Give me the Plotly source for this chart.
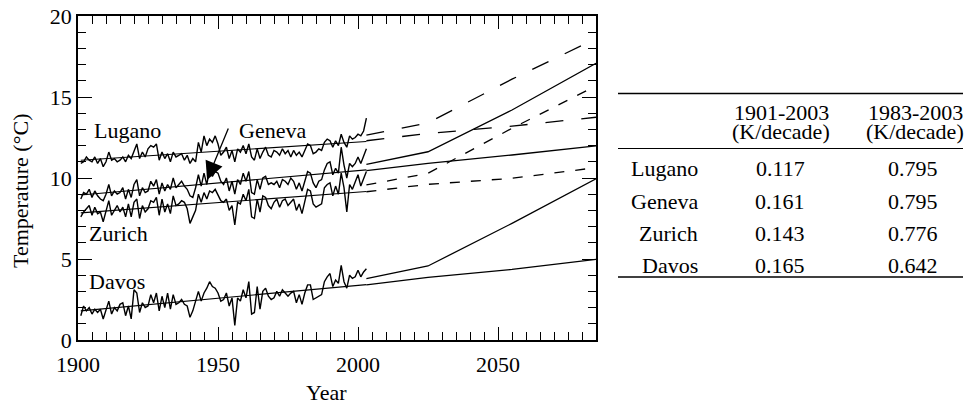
import plotly.graph_objects as go

years = list(range(1901, 2004))

lugano = [10.9, 11.0, 11.3, 11.1, 11.0, 11.3, 10.9, 11.2, 10.7, 11.0,
          11.6, 11.1, 11.2, 11.0, 11.1, 11.3, 11.0, 11.4, 11.2, 11.7,
          12.1, 11.2, 11.6, 11.3, 11.8, 12.0, 11.9, 12.1, 11.1, 11.6,
          11.2, 11.5, 11.0, 11.6, 11.3, 11.4, 11.5, 11.1, 11.4, 10.9,
          11.2, 11.0, 12.2, 11.6, 12.6, 12.0, 12.4, 12.2, 12.6, 12.1,
          11.4, 11.6, 11.9, 11.2, 11.7, 11.0, 11.8, 11.6, 12.0, 11.5,
          12.1, 11.3, 11.1, 11.8, 11.2, 11.6, 11.9, 11.4, 11.3, 11.7,
          11.6, 11.4, 11.8, 11.5, 11.7, 11.3, 11.7, 11.4, 11.6, 11.3,
          11.7, 12.1, 12.0, 11.5, 11.6, 11.8, 11.7, 12.2, 12.4, 12.3,
          11.9, 12.3, 12.0, 12.7, 12.2, 11.9, 12.6, 12.4, 12.5, 12.7,
          12.6, 12.9, 13.7]

geneva = [8.7, 9.1, 9.0, 9.3, 8.8, 9.2, 8.9, 8.7, 8.6, 9.0,
          9.6, 8.9, 9.2, 9.0, 9.1, 9.4, 8.7, 9.3, 8.8, 9.6,
          9.9, 8.9, 9.4, 9.1, 9.2, 9.8, 9.5, 9.9, 9.0, 9.7,
          9.2, 9.6, 9.3, 10.0, 9.4, 9.6, 9.8, 9.5, 9.3, 8.9,
          8.8, 9.4, 10.2, 9.5, 10.3, 9.6, 10.5, 10.1, 10.4, 10.3,
          9.8, 9.6, 10.0, 9.2, 9.8, 9.0, 9.9, 9.6, 10.3, 9.8,
          10.4, 9.1, 9.0, 9.9, 9.3, 10.0, 10.1, 9.6, 9.7, 9.6,
          9.8, 9.4, 9.9, 9.8, 9.6, 10.0, 9.8, 9.3, 9.7, 9.2,
          9.8, 10.4, 10.3, 9.7, 9.4, 9.8, 9.9, 10.5, 10.9, 11.0,
          10.2, 10.6, 10.3, 11.9, 10.8, 10.0, 10.9, 10.7, 10.9, 11.3,
          10.9, 11.4, 11.8]

zurich = [7.6, 7.9, 8.1, 8.3, 7.7, 8.2, 7.8, 7.9, 7.3, 7.9,
          8.6, 7.7, 8.0, 8.3, 7.9, 8.2, 7.6, 8.4, 7.6, 8.5,
          8.7, 7.5, 8.3, 7.9, 8.1, 8.6, 8.5, 8.8, 7.7, 8.7,
          7.9, 8.4, 7.8, 8.9, 8.3, 8.4, 8.6, 8.5, 8.1, 7.2,
          7.6, 8.0, 9.0, 8.5, 9.1, 8.7, 9.2, 9.1, 9.3, 8.9,
          8.6, 8.5, 8.7, 8.0, 8.3, 7.1, 8.5, 8.4, 9.0, 8.6,
          9.3, 7.6, 7.5, 8.7, 7.9, 8.9, 8.8, 8.3, 8.1, 8.5,
          8.7, 8.2, 8.6, 8.7, 8.3, 8.5, 8.7, 8.0, 8.4, 7.8,
          8.5, 9.3, 9.2, 8.4, 8.2, 8.3, 8.4, 9.4, 9.6, 9.7,
          8.9, 9.5, 9.0, 10.3, 9.4, 7.9, 9.6, 9.3, 9.7, 10.2,
          9.5, 10.0, 10.4]

davos = [1.5, 2.1, 1.8, 2.0, 1.6, 1.9, 1.7, 1.9, 1.3, 1.8,
         2.4, 1.6, 2.0, 1.8, 2.2, 2.3, 1.5, 2.1, 1.3, 3.1,
         2.9, 1.7, 2.3, 2.0, 2.1, 2.8, 2.3, 2.9, 1.8, 2.7,
         2.0, 2.9, 1.9, 2.8, 2.2, 2.3, 2.5, 2.2, 2.1, 1.4,
         1.8, 2.4, 3.0, 2.4, 2.9, 3.2, 3.6, 3.3, 3.2, 2.9,
         2.4, 2.5, 2.9, 2.1, 2.6, 0.9, 2.6, 2.4, 3.1, 2.6,
         3.6, 1.6, 1.7, 3.3, 1.9, 3.0, 3.2, 2.7, 2.5, 2.6,
         3.0, 2.7, 3.1, 2.9, 2.7, 2.9, 3.0, 2.3, 2.8, 2.2,
         2.9, 3.4, 3.4, 2.5, 2.6, 2.7, 2.8, 3.6, 3.9, 4.1,
         3.3, 3.7, 3.5, 4.6, 3.6, 3.2, 4.0, 3.8, 3.9, 4.3,
         3.9, 4.2, 4.4]

# linear trends 1901-2003 (end points)
trend_years = [1901, 2003]
trend_lugano = [11.1, 12.25]
trend_geneva = [8.95, 10.5]
trend_zurich = [7.85, 9.17]
trend_davos = [1.8, 3.42]

# scenario projections
proj_years = [2003, 2025, 2055, 2085]
lugano_hi = [12.65, 13.4, 16.1, 18.6]
lugano_lo = [12.3, 12.75, 13.2, 13.75]
geneva_hi = [10.84, 11.62, 14.2, 17.08]
geneva_lo = [10.45, 10.9, 11.42, 11.98]
zurich_hi = [9.57, 10.29, 13.07, 15.68]
zurich_lo = [9.15, 9.61, 9.98, 10.64]
davos_hi = [3.79, 4.57, 7.2, 9.95]
davos_lo = [3.4, 3.87, 4.36, 4.98]

# table
table_stations = ["Lugano", "Geneva", "Zurich", "Davos"]
table_head1 = ["1901-2003", "1983-2003"]
table_head2 = ["(K/decade)", "(K/decade)"]
trend_1901_2003 = ["0.117", "0.161", "0.143", "0.165"]
trend_1983_2003 = ["0.795", "0.795", "0.776", "0.642"]

FONT = "Liberation Serif"
FS = 22

fig = go.Figure()

for s in [lugano, geneva, zurich, davos]:
    fig.add_trace(go.Scatter(x=years, y=s, mode="lines",
                             line=dict(color="black", width=1.4), showlegend=False))
for t in [trend_lugano, trend_geneva, trend_zurich, trend_davos]:
    fig.add_trace(go.Scatter(x=trend_years, y=t, mode="lines",
                             line=dict(color="black", width=1.1), showlegend=False))

proj = [(lugano_hi, "18px,18px"), (lugano_lo, "18px,18px"),
        (geneva_hi, "solid"), (geneva_lo, "solid"),
        (zurich_hi, "10px,11px"), (zurich_lo, "10px,11px"),
        (davos_hi, "solid"), (davos_lo, "solid")]
for vals, dash in proj:
    fig.add_trace(go.Scatter(x=proj_years, y=vals, mode="lines",
                             line=dict(color="black", width=1.3, dash=dash),
                             showlegend=False))

# page offset of the plotly div (default body margin)
OFF = 8
# geometry of plot area in page pixels
L, R, T, B = 78, 596, 16, 340
W, H = R - L, B - T
FIG_W, FIG_H = 973, 404

def px(xp):
    return (xp - L) / W

def py(yp):
    return (B - yp) / H

def txt(x, y, text, xref="paper", yref="paper", xanchor="center", **kw):
    d = dict(x=x, y=y, xref=xref, yref=yref, text=text, showarrow=False,
             xanchor=xanchor, yanchor="middle",
             font=dict(family=FONT, size=FS, color="black"))
    d.update(kw)
    return d

ann = []
# station labels
for name, xx, yy in [("Lugano", 1917.5, 12.95), ("Geneva", 1969.3, 12.95),
                     ("Zurich", 1914.6, 6.55), ("Davos", 1913.9, 3.6)]:
    ann.append(txt(xx, yy, name, xref="x", yref="y"))
# arrow
ann.append(dict(x=1946.1, y=9.88, ax=1953.9, ay=13.15, xref="x", yref="y",
                axref="x", ayref="y", text="", showarrow=True,
                arrowhead=2, arrowsize=2.8, arrowwidth=1.3, arrowcolor="black"))
# axis titles
ann.append(txt(px(326), py(392), "Year"))
ann.append(txt(px(20), py(191), "Temperature (\u00b0C)", textangle=-90))

# table text
col_x = [781, 915]
for i in range(2):
    ann.append(txt(px(col_x[i]), py(112), table_head1[i]))
    ann.append(txt(px(col_x[i]), py(131), table_head2[i]))
row_y = [168, 201, 233, 265]
for j in range(4):
    ann.append(txt(px(700), py(row_y[j]), table_stations[j], xanchor="right"))
    ann.append(txt(px(780), py(row_y[j]), trend_1901_2003[j]))
    ann.append(txt(px(913), py(row_y[j]), trend_1983_2003[j]))

shapes = []
for yy, w in [(93.5, 1.3), (148.5, 1.1), (277, 1.3)]:
    shapes.append(dict(type="line", xref="paper", yref="paper",
                       x0=px(618), x1=px(963), y0=py(yy), y1=py(yy),
                       line=dict(color="black", width=w)))

ml = L - OFF
mt = T - OFF
mr = FIG_W - ml - W
mb = FIG_H - mt - H

fig.update_layout(
    width=FIG_W, height=FIG_H,
    margin=dict(l=ml, r=mr, t=mt, b=mb, pad=0),
    paper_bgcolor="white", plot_bgcolor="white",
    font=dict(family=FONT, size=FS, color="black"),
    annotations=ann, shapes=shapes,
    xaxis=dict(range=[1900, 2085], tickvals=[1900, 1950, 2000, 2050],
               automargin=False, ticklabeloverflow="allow",
               ticks="inside", ticklen=13, tickwidth=1.3, tickcolor="black",
               ticklabelstandoff=4,
               showline=True, linecolor="black", linewidth=1.5, mirror="allticks",
               showgrid=False, zeroline=False,
               minor=dict(dtick=5, tick0=1900, ticks="inside", ticklen=8,
                          tickwidth=1.2, tickcolor="black", showgrid=False),
               tickfont=dict(family=FONT, size=FS, color="black")),
    yaxis=dict(range=[0, 20], tickvals=[0, 5, 10, 15, 20],
               automargin=False, ticklabeloverflow="allow",
               ticks="inside", ticklen=14, tickwidth=1.3, tickcolor="black",
               showline=True, linecolor="black", linewidth=1.5, mirror="allticks",
               showgrid=False, zeroline=False,
               minor=dict(dtick=1, tick0=0, ticks="inside", ticklen=8,
                          tickwidth=1.2, tickcolor="black", showgrid=False),
               tickfont=dict(family=FONT, size=FS, color="black")),
)

fig.write_html("out.html")
